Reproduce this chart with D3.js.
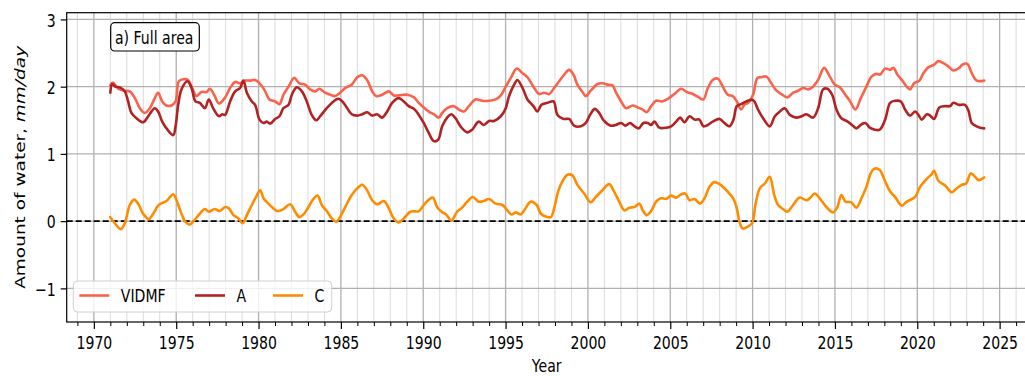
<!DOCTYPE html>
<html><head><meta charset="utf-8">
<script src="https://cdn.jsdelivr.net/npm/d3@7"></script>
<style>
html,body{margin:0;padding:0;background:#fff;}
text{font-family:"DejaVu Sans",sans-serif;}
</style></head>
<body><svg id="chart" width="1025" height="376"></svg>
<script>
// ---- data ----
const seriesNames = ["VIDMF", "A", "C"];
const seriesColors = ["#f9634b", "#b22222", "#ff8c00"];
const xTickYears = [1970,1975,1980,1985,1990,1995,2000,2005,2010,2015,2020,2025];
const yTickValues = [-1,0,1,2,3];
const annotationText = "a) Full area";

const vidmf = [
[1971.0,2.02],[1971.17,2.06],[1971.47,1.97],[1971.88,1.94],[1972.18,1.93],[1972.49,1.83],[1972.79,1.68],[1973.09,1.61],[1973.4,1.68],[1973.7,1.83],[1973.9,1.91],[1974.15,1.78],[1974.4,1.72],[1974.71,1.72],[1974.96,1.78],[1975.16,2.08],[1975.42,2.11],[1975.72,2.10],[1975.97,1.98],[1976.23,1.86],[1976.53,1.92],[1976.84,1.92],[1977.04,1.97],[1977.3,1.88],[1977.6,1.75],[1977.97,1.84],[1978.27,1.98],[1978.58,2.07],[1978.88,2.05],[1979.19,2.09],[1979.49,2.09],[1979.79,2.10],[1980.06,2.05],[1980.34,1.96],[1980.66,1.81],[1981.01,1.78],[1981.27,1.74],[1981.51,1.88],[1981.82,2.00],[1982.16,2.13],[1982.48,2.05],[1982.83,2.03],[1983.13,1.96],[1983.44,1.93],[1983.7,1.97],[1984.04,1.91],[1984.35,1.88],[1984.65,1.86],[1984.95,1.91],[1985.26,1.98],[1985.66,2.03],[1985.99,2.14],[1986.29,2.17],[1986.59,2.10],[1986.9,1.93],[1987.14,1.86],[1987.5,1.88],[1987.91,1.93],[1988.21,1.87],[1988.52,1.87],[1989.02,1.88],[1989.43,1.84],[1989.73,1.76],[1990.03,1.69],[1990.34,1.63],[1990.64,1.59],[1990.95,1.54],[1991.15,1.61],[1991.45,1.68],[1991.86,1.71],[1992.16,1.66],[1992.46,1.63],[1992.77,1.71],[1993.17,1.81],[1993.58,1.79],[1994.0,1.79],[1994.4,1.81],[1994.71,1.87],[1995.01,2.00],[1995.32,2.13],[1995.68,2.27],[1996.03,2.20],[1996.33,2.14],[1996.69,2.00],[1997.04,1.89],[1997.34,1.91],[1997.64,1.89],[1997.95,1.98],[1998.25,2.08],[1998.56,2.18],[1998.86,2.25],[1999.12,2.18],[1999.36,2.03],[1999.67,1.92],[1999.87,1.86],[2000.17,1.94],[2000.58,2.04],[2000.88,2.05],[2001.19,2.03],[2001.49,2.02],[2001.71,1.91],[2002.02,1.78],[2002.32,1.68],[2002.72,1.72],[2003.03,1.69],[2003.33,1.66],[2003.57,1.62],[2003.84,1.71],[2004.14,1.79],[2004.51,1.78],[2004.85,1.82],[2005.25,1.89],[2005.66,1.97],[2006.0,1.92],[2006.37,1.89],[2006.73,1.84],[2007.01,1.81],[2007.28,1.98],[2007.58,2.10],[2007.89,2.12],[2008.19,2.00],[2008.49,1.88],[2008.8,1.86],[2009.04,1.78],[2009.3,1.66],[2009.5,1.73],[2009.73,1.76],[2010.03,1.88],[2010.29,2.13],[2010.54,2.14],[2010.84,2.15],[2011.14,2.05],[2011.45,1.94],[2011.75,1.89],[2012.11,1.84],[2012.46,1.91],[2012.76,1.94],[2013.07,1.98],[2013.37,1.96],[2013.67,2.00],[2013.98,2.10],[2014.34,2.28],[2014.69,2.15],[2014.99,2.03],[2015.29,1.99],[2015.6,1.89],[2015.9,1.79],[2016.24,1.66],[2016.57,1.83],[2016.91,2.00],[2017.22,2.15],[2017.52,2.19],[2017.74,2.18],[2018.05,2.27],[2018.35,2.25],[2018.55,2.28],[2018.79,2.18],[2019.12,2.08],[2019.36,2.00],[2019.56,1.96],[2019.81,2.05],[2020.13,2.09],[2020.37,2.20],[2020.68,2.29],[2020.98,2.32],[2021.28,2.38],[2021.59,2.35],[2021.89,2.30],[2022.19,2.24],[2022.5,2.27],[2022.76,2.33],[2023.04,2.34],[2023.31,2.20],[2023.61,2.09],[2024.06,2.09]
];
const seriesA = [
[1971.0,1.91],[1971.11,2.04],[1971.3,2.00],[1971.58,1.99],[1971.88,1.93],[1972.08,1.78],[1972.28,1.61],[1972.59,1.53],[1972.99,1.47],[1973.3,1.56],[1973.7,1.68],[1973.9,1.63],[1974.15,1.48],[1974.47,1.36],[1974.82,1.28],[1974.96,1.41],[1975.12,1.73],[1975.32,1.96],[1975.68,2.08],[1975.93,1.98],[1976.17,1.78],[1976.43,1.76],[1976.74,1.68],[1976.98,1.81],[1977.24,1.68],[1977.59,1.56],[1977.8,1.59],[1977.97,1.58],[1978.27,1.78],[1978.58,1.93],[1978.88,1.98],[1979.08,2.09],[1979.29,1.91],[1979.59,1.78],[1979.79,1.73],[1980.06,1.51],[1980.3,1.46],[1980.5,1.48],[1980.7,1.45],[1981.01,1.52],[1981.27,1.56],[1981.51,1.68],[1981.82,1.73],[1982.02,1.88],[1982.32,1.99],[1982.63,1.93],[1982.93,1.78],[1983.23,1.58],[1983.5,1.50],[1983.74,1.56],[1984.14,1.68],[1984.55,1.78],[1984.85,1.82],[1985.16,1.76],[1985.66,1.59],[1985.99,1.57],[1986.29,1.59],[1986.59,1.62],[1986.9,1.57],[1987.2,1.59],[1987.5,1.54],[1987.81,1.63],[1988.11,1.76],[1988.52,1.83],[1988.82,1.78],[1989.12,1.71],[1989.43,1.67],[1989.73,1.58],[1990.03,1.46],[1990.34,1.31],[1990.64,1.19],[1990.9,1.21],[1991.15,1.41],[1991.45,1.54],[1991.71,1.59],[1991.96,1.53],[1992.26,1.41],[1992.67,1.32],[1992.97,1.36],[1993.37,1.48],[1993.68,1.43],[1994.0,1.49],[1994.3,1.49],[1994.71,1.56],[1995.01,1.68],[1995.21,1.86],[1995.52,2.03],[1995.72,2.10],[1996.03,1.98],[1996.33,1.81],[1996.69,1.71],[1996.93,1.63],[1997.18,1.73],[1997.54,1.76],[1997.91,1.78],[1998.15,1.58],[1998.52,1.52],[1998.86,1.52],[1999.16,1.42],[1999.57,1.41],[1999.87,1.46],[2000.13,1.58],[2000.42,1.67],[2000.68,1.61],[2000.98,1.49],[2001.39,1.42],[2001.69,1.43],[2002.02,1.46],[2002.28,1.42],[2002.56,1.46],[2002.83,1.41],[2003.09,1.38],[2003.37,1.46],[2003.63,1.46],[2003.84,1.43],[2004.04,1.48],[2004.34,1.39],[2004.75,1.39],[2005.05,1.41],[2005.36,1.48],[2005.6,1.54],[2005.86,1.47],[2006.17,1.56],[2006.47,1.51],[2006.77,1.51],[2007.01,1.41],[2007.28,1.43],[2007.58,1.48],[2007.99,1.52],[2008.29,1.46],[2008.59,1.41],[2008.84,1.51],[2009.04,1.71],[2009.3,1.74],[2009.61,1.78],[2010.03,1.80],[2010.33,1.66],[2010.64,1.53],[2011.04,1.41],[2011.35,1.56],[2011.65,1.63],[2011.95,1.68],[2012.26,1.58],[2012.66,1.54],[2012.97,1.56],[2013.27,1.59],[2013.67,1.54],[2013.98,1.68],[2014.28,1.96],[2014.54,1.97],[2014.83,1.88],[2015.09,1.66],[2015.39,1.53],[2015.7,1.49],[2016.04,1.43],[2016.3,1.38],[2016.61,1.44],[2016.85,1.46],[2017.11,1.39],[2017.42,1.36],[2017.72,1.36],[2018.05,1.51],[2018.35,1.76],[2018.65,1.79],[2019.0,1.78],[2019.26,1.66],[2019.56,1.57],[2019.87,1.63],[2020.07,1.58],[2020.27,1.51],[2020.58,1.59],[2020.78,1.57],[2021.02,1.52],[2021.34,1.69],[2021.69,1.71],[2021.99,1.71],[2022.19,1.76],[2022.5,1.73],[2022.9,1.73],[2023.11,1.64],[2023.31,1.46],[2023.61,1.41],[2023.81,1.39],[2024.06,1.38]
];
const seriesC = [
[1971.0,0.06],[1971.27,-0.03],[1971.64,-0.12],[1971.88,-0.03],[1972.18,0.24],[1972.45,0.32],[1972.69,0.26],[1972.99,0.11],[1973.34,0.03],[1973.6,0.11],[1973.9,0.23],[1974.15,0.27],[1974.41,0.30],[1974.82,0.40],[1975.02,0.31],[1975.32,0.11],[1975.56,-0.01],[1975.83,-0.05],[1976.09,0.01],[1976.43,0.11],[1976.74,0.18],[1976.98,0.14],[1977.34,0.18],[1977.65,0.15],[1977.97,0.21],[1978.2,0.19],[1978.48,0.09],[1978.78,0.04],[1979.04,-0.03],[1979.29,0.09],[1979.59,0.24],[1979.85,0.36],[1980.1,0.46],[1980.3,0.34],[1980.6,0.26],[1980.9,0.19],[1981.15,0.15],[1981.51,0.18],[1981.92,0.25],[1982.22,0.14],[1982.48,0.06],[1982.73,0.10],[1983.03,0.21],[1983.33,0.33],[1983.58,0.38],[1983.84,0.24],[1984.14,0.15],[1984.45,0.04],[1984.71,-0.01],[1984.95,0.06],[1985.26,0.21],[1985.66,0.39],[1986.09,0.51],[1986.29,0.54],[1986.59,0.46],[1986.9,0.31],[1987.2,0.25],[1987.61,0.30],[1987.91,0.19],[1988.21,0.04],[1988.52,-0.02],[1988.82,0.04],[1989.22,0.14],[1989.73,0.15],[1990.03,0.24],[1990.3,0.31],[1990.58,0.35],[1990.84,0.21],[1991.11,0.14],[1991.39,0.10],[1991.71,0.01],[1992.06,0.14],[1992.36,0.20],[1992.67,0.29],[1993.01,0.36],[1993.37,0.29],[1993.68,0.30],[1994.0,0.33],[1994.4,0.26],[1994.81,0.24],[1995.11,0.16],[1995.36,0.10],[1995.62,0.13],[1995.92,0.10],[1996.23,0.20],[1996.53,0.29],[1996.89,0.24],[1997.14,0.11],[1997.44,0.07],[1997.75,0.06],[1997.95,0.19],[1998.19,0.44],[1998.45,0.59],[1998.76,0.69],[1999.06,0.68],[1999.36,0.54],[1999.77,0.41],[2000.17,0.28],[2000.48,0.36],[2000.88,0.46],[2001.29,0.55],[2001.59,0.44],[2001.9,0.29],[2002.22,0.16],[2002.52,0.20],[2002.83,0.21],[2003.13,0.26],[2003.33,0.16],[2003.57,0.09],[2003.84,0.15],[2004.14,0.29],[2004.44,0.34],[2004.75,0.33],[2005.05,0.38],[2005.36,0.35],[2005.66,0.40],[2005.92,0.41],[2006.17,0.31],[2006.47,0.33],[2006.81,0.26],[2007.08,0.34],[2007.38,0.51],[2007.68,0.58],[2007.99,0.55],[2008.29,0.49],[2008.59,0.41],[2008.84,0.33],[2009.04,0.19],[2009.2,-0.01],[2009.4,-0.11],[2009.71,-0.08],[2009.97,-0.03],[2010.17,0.24],[2010.44,0.49],[2010.74,0.56],[2011.04,0.66],[2011.31,0.39],[2011.55,0.24],[2011.85,0.18],[2012.11,0.14],[2012.46,0.24],[2012.86,0.35],[2013.27,0.31],[2013.47,0.34],[2013.77,0.41],[2014.08,0.34],[2014.48,0.21],[2014.89,0.13],[2015.15,0.21],[2015.39,0.39],[2015.64,0.29],[2016.0,0.28],[2016.3,0.20],[2016.61,0.34],[2016.91,0.51],[2017.17,0.71],[2017.38,0.78],[2017.72,0.76],[2018.05,0.59],[2018.35,0.44],[2018.65,0.36],[2019.06,0.23],[2019.36,0.29],[2019.87,0.36],[2020.17,0.51],[2020.58,0.63],[2020.88,0.70],[2021.02,0.75],[2021.28,0.60],[2021.69,0.53],[2022.09,0.43],[2022.4,0.49],[2022.7,0.54],[2022.96,0.56],[2023.25,0.71],[2023.51,0.66],[2023.71,0.61],[2024.06,0.65]
];

// ---- layout ----
const SQ = 0.76;     // horizontal text squeeze seen in the reference
const FS = 18.5;
const L = 66.7, R = 1026.8, T = 12.7, B = 322;
const svg = d3.select("#chart");
const x = d3.scaleLinear().domain([1968.35, 2026.65]).range([L, R]);
const y = d3.scaleLinear().domain([-1.5, 3.1]).range([B, T]);

function sqText(g, tx, ty, str, anchor, extra) {
  return g.append("text")
    .attr("transform", `translate(${tx},${ty}) scale(${SQ},1)` + (extra || ""))
    .attr("text-anchor", anchor || "start")
    .attr("font-size", FS).attr("fill", "#000").text(str);
}

// grid
const minorYears = d3.range(1969, 2027);
const grid = svg.append("g");
grid.selectAll("line.minor").data(minorYears.filter(v => v % 5 !== 0)).join("line")
  .attr("x1", d => x(d)).attr("x2", d => x(d)).attr("y1", T).attr("y2", B)
  .attr("stroke", "#dadada").attr("stroke-width", 1);
grid.selectAll("line.majx").data(xTickYears).join("line")
  .attr("x1", d => x(d)).attr("x2", d => x(d)).attr("y1", T).attr("y2", B)
  .attr("stroke", "#b0b0b0").attr("stroke-width", 1.3);
grid.selectAll("line.majy").data(yTickValues).join("line")
  .attr("x1", L).attr("x2", R).attr("y1", d => y(d)).attr("y2", d => y(d))
  .attr("stroke", "#b0b0b0").attr("stroke-width", 1.3);

// zero line
svg.append("line").attr("x1", L).attr("x2", R).attr("y1", y(0)).attr("y2", y(0))
  .attr("stroke", "#000").attr("stroke-width", 1.6).attr("stroke-dasharray", "6,3");

// series
const line = d3.line().x(d => x(d[0])).y(d => y(d[1])).curve(d3.curveCatmullRom.alpha(0.5));
const allSeries = [vidmf, seriesA, seriesC];
svg.append("g").selectAll("path").data(allSeries).join("path")
  .attr("d", d => line(d)).attr("fill", "none")
  .attr("stroke", (d, i) => seriesColors[i]).attr("stroke-width", 2.6)
  .attr("stroke-linejoin", "round").attr("stroke-linecap", "round");

// axes
const xAxis = d3.axisBottom(x).tickValues(xTickYears).tickFormat(d3.format("d")).tickSize(7).tickSizeOuter(0);
const gx = svg.append("g").attr("transform", `translate(0,${B})`).call(xAxis);
gx.select(".domain").remove();
gx.selectAll(".tick line").attr("stroke", "#000").attr("stroke-width", 1.2);
gx.selectAll(".tick text").attr("y", null).attr("dy", null)
  .attr("transform", `translate(0,27) scale(${SQ},1)`)
  .attr("font-size", FS).attr("font-family", "DejaVu Sans").attr("fill", "#000");
const xMinor = d3.axisBottom(x).tickValues(minorYears.filter(v => v % 5 !== 0)).tickFormat("").tickSize(4).tickSizeOuter(0);
const gxm = svg.append("g").attr("transform", `translate(0,${B})`).call(xMinor);
gxm.select(".domain").remove();
gxm.selectAll(".tick line").attr("stroke", "#000").attr("stroke-width", 1);

const yAxis = d3.axisLeft(y).tickValues(yTickValues)
  .tickFormat(d => d < 0 ? "\u2212" + Math.abs(d) : String(d)).tickSize(6).tickSizeOuter(0);
const gy = svg.append("g").attr("transform", `translate(${L},0)`).call(yAxis);
gy.select(".domain").remove();
gy.selectAll(".tick line").attr("stroke", "#000").attr("stroke-width", 1.2);
gy.selectAll(".tick text").attr("x", null).attr("dy", null)
  .attr("transform", `translate(-11,6.7) scale(${SQ},1)`)
  .attr("font-size", FS).attr("font-family", "DejaVu Sans").attr("fill", "#000");

// spines
svg.append("rect").attr("x", L).attr("y", T).attr("width", R - L).attr("height", B - T)
  .attr("fill", "none").attr("stroke", "#000").attr("stroke-width", 1.2);

// axis labels
sqText(svg, (L + R) / 2, 372, "Year", "middle");
const yl = svg.append("text")
  .attr("transform", `translate(25,${(T + B) / 2}) scale(${SQ},1) rotate(-90)`)
  .attr("text-anchor", "middle").attr("font-size", FS).attr("fill", "#000");
yl.append("tspan").text("Amount of water, ");
yl.append("tspan").attr("font-style", "italic").text("mm/day");

// legend
const lg = svg.append("g");
lg.append("rect").attr("x", 73.3).attr("y", 281).attr("width", 258.4).attr("height", 31)
  .attr("rx", 4).attr("fill", "#fff").attr("fill-opacity", 0.8)
  .attr("stroke", "#d0d0d0").attr("stroke-width", 1);
const legX = [79.3, 195, 273];
seriesNames.forEach((n, i) => {
  lg.append("line").attr("x1", legX[i]).attr("x2", legX[i] + 30).attr("y1", 295.5).attr("y2", 295.5)
    .attr("stroke", seriesColors[i]).attr("stroke-width", 2.6);
  sqText(lg, legX[i] + 41.5, 302.3, n, "start");
});

// annotation
svg.append("rect").attr("x", 110.7).attr("y", 22.7).attr("width", 88.6).attr("height", 28.3)
  .attr("rx", 4).attr("fill", "#fff").attr("stroke", "#000").attr("stroke-width", 1.2);
sqText(svg, 115, 43.5, annotationText, "start");
</script></body></html>
